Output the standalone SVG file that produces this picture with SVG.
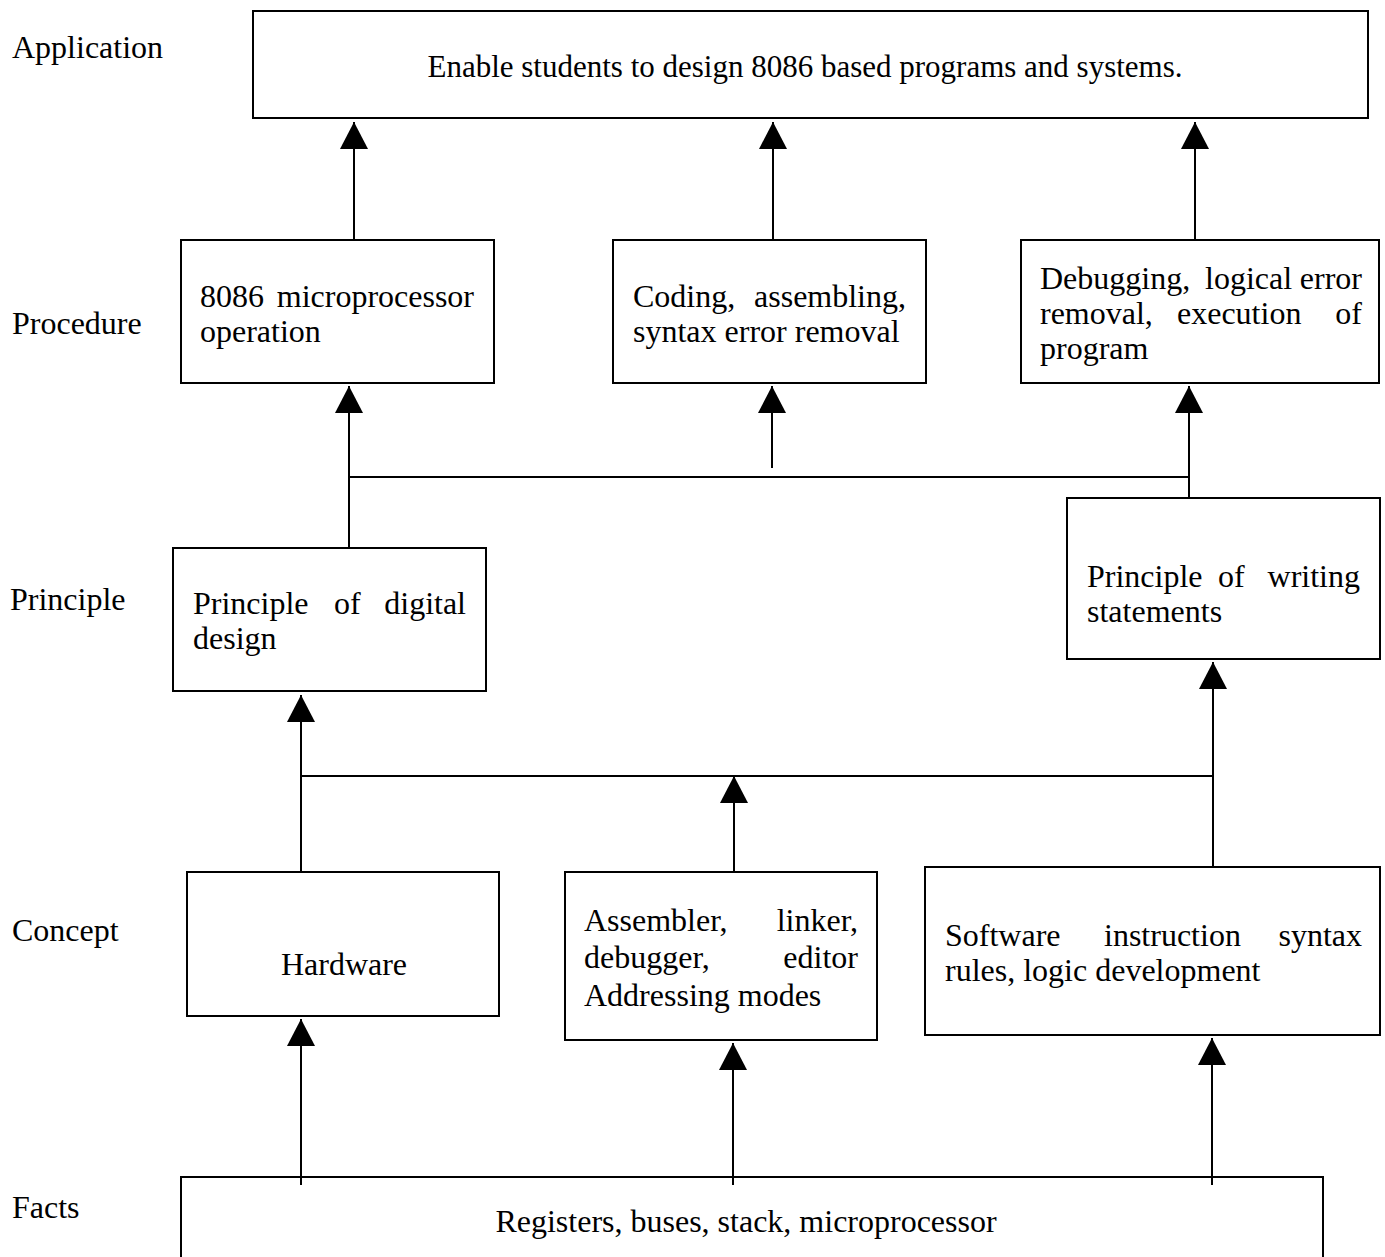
<svg xmlns="http://www.w3.org/2000/svg" width="1385" height="1257" viewBox="0 0 1385 1257">
<style>
text{font-family:"Liberation Serif","Times New Roman",serif;font-size:32px;fill:#000}
.box{fill:#fff;stroke:#000;stroke-width:2}
.c line,.c path{stroke:#000;stroke-width:2;fill:none}
.end{text-anchor:end}
.mid{text-anchor:middle}
</style>
<defs>
<marker id="ah" markerWidth="28" markerHeight="28" refX="27" refY="14" orient="auto" markerUnits="userSpaceOnUse"><path d="M0,0 L27,14 L0,28 Z" fill="#000"/></marker>
</defs>
<rect width="1385" height="1257" fill="#fff"/>

<g id="labels">
<text x="12" y="58">Application</text>
<text x="12" y="334">Procedure</text>
<text x="10" y="610">Principle</text>
<text x="12" y="941">Concept</text>
<text x="12" y="1218">Facts</text>
</g>

<g id="app">
<rect class="box" x="253" y="11" width="1115" height="107"/>
<text x="805" y="77" class="mid" style="font-size:31px">Enable students to design 8086 based programs and systems.</text>
</g>

<g id="proc1">
<rect class="box" x="181" y="240" width="313" height="143"/>
<text x="200" y="307">8086</text><text x="474" y="307" class="end">microprocessor</text>
<text x="200" y="342">operation</text>
</g>

<g id="proc2">
<rect class="box" x="613" y="240" width="313" height="143"/>
<text x="633" y="307">Coding,</text><text x="906" y="307" class="end">assembling,</text>
<text x="633" y="342">syntax error removal</text>
</g>

<g id="proc3">
<rect class="box" x="1021" y="240" width="358" height="143"/>
<text x="1040" y="289">Debugging,</text><text x="1205" y="289">logical</text><text x="1362" y="289" class="end">error</text>
<text x="1040" y="324">removal,</text><text x="1177" y="324">execution</text><text x="1362" y="324" class="end">of</text>
<text x="1040" y="359">program</text>
</g>

<g id="prin1">
<rect class="box" x="173" y="548" width="313" height="143"/>
<text x="193" y="614">Principle</text><text x="334" y="614">of</text><text x="466" y="614" class="end">digital</text>
<text x="193" y="649">design</text>
</g>

<g id="prin2">
<rect class="box" x="1067" y="498" width="313" height="161"/>
<text x="1087" y="587">Principle</text><text x="1218" y="587">of</text><text x="1360" y="587" class="end">writing</text>
<text x="1087" y="622">statements</text>
</g>

<g id="con1">
<rect class="box" x="187" y="872" width="312" height="144"/>
<text x="344" y="975" class="mid">Hardware</text>
</g>

<g id="con2">
<rect class="box" x="565" y="872" width="312" height="168"/>
<text x="584" y="931">Assembler,</text><text x="858" y="931" class="end">linker,</text>
<text x="584" y="968">debugger,</text><text x="858" y="968" class="end">editor</text>
<text x="584" y="1006">Addressing modes</text>
</g>

<g id="con3">
<rect class="box" x="925" y="867" width="455" height="168"/>
<text x="945" y="946">Software</text><text x="1104" y="946">instruction</text><text x="1362" y="946" class="end">syntax</text>
<text x="945" y="981">rules, logic development</text>
</g>

<g id="facts">
<rect class="box" x="181" y="1177" width="1142" height="100"/>
<text x="746" y="1232" class="mid">Registers, buses, stack, microprocessor</text>
</g>

<g id="connectors" class="c">
<line x1="354" y1="240" x2="354" y2="122" marker-end="url(#ah)"/>
<line x1="773" y1="240" x2="773" y2="122" marker-end="url(#ah)"/>
<line x1="1195" y1="240" x2="1195" y2="122" marker-end="url(#ah)"/>

<line x1="349" y1="477" x2="1189" y2="477"/>
<line x1="349" y1="548" x2="349" y2="386" marker-end="url(#ah)"/>
<line x1="772" y1="468" x2="772" y2="386" marker-end="url(#ah)"/>
<line x1="1189" y1="498" x2="1189" y2="386" marker-end="url(#ah)"/>

<line x1="301" y1="776" x2="1213" y2="776"/>
<line x1="301" y1="872" x2="301" y2="695" marker-end="url(#ah)"/>
<line x1="734" y1="872" x2="734" y2="776" marker-end="url(#ah)"/>
<line x1="1213" y1="867" x2="1213" y2="662" marker-end="url(#ah)"/>

<line x1="301" y1="1185" x2="301" y2="1019" marker-end="url(#ah)"/>
<line x1="733" y1="1185" x2="733" y2="1043" marker-end="url(#ah)"/>
<line x1="1212" y1="1185" x2="1212" y2="1038" marker-end="url(#ah)"/>
</g>
</svg>
